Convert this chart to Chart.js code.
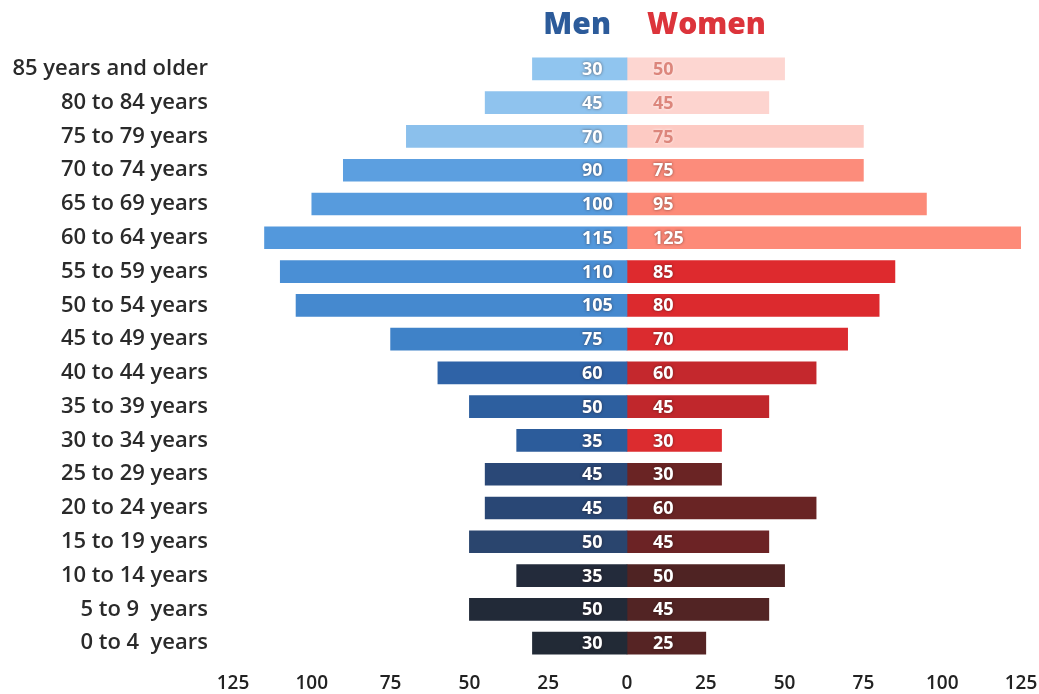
<!DOCTYPE html>
<html>
<head>
<meta charset="utf-8">
<script src="https://cdn.jsdelivr.net/npm/chart.js@4.4.1/dist/chart.umd.min.js"></script>
<style>
  html, body { margin: 0; padding: 0; background: #fff; }
  #wrap { width: 1039px; height: 694px; }
</style>
</head>
<body>
<div id="wrap"><canvas id="pyramid"></canvas></div>
<script>
const ageGroups = ['85 years and older', '80 to 84 years', '75 to 79 years', '70 to 74 years',
  '65 to 69 years', '60 to 64 years', '55 to 59 years', '50 to 54 years', '45 to 49 years',
  '40 to 44 years', '35 to 39 years', '30 to 34 years', '25 to 29 years', '20 to 24 years',
  '15 to 19 years', '10 to 14 years', '5 to 9  years', '0 to 4  years'];
const men   = [30, 45, 70, 90, 100, 115, 110, 105, 75, 60, 50, 35, 45, 45, 50, 35, 50, 30];
const women = [50, 45, 75, 75, 95, 125, 85, 80, 70, 60, 45, 30, 30, 60, 45, 50, 45, 25];
const xTicks = [-125, -100, -75, -50, -25, 0, 25, 50, 75, 100, 125];

const menColors = ['#90c5ef', '#8fc3ee', '#8bc0ec', '#5c9fe0', '#579bdd', '#5398dc', '#4a8fd5',
  '#4589cf', '#3f82c8', '#2f63a7', '#2d5f9f', '#2c5c9b', '#2a4877', '#294775', '#2a456e',
  '#232b3b', '#222a38', '#222a36'];
const womenColors = ['#fdd6d1', '#fdd4cf', '#fdcac3', '#fc8c7b', '#fc8a78', '#fd8a78', '#de2a2e',
  '#dc2a2e', '#db2b2f', '#c4282d', '#c0272c', '#dc2c2f', '#6a2424', '#692424', '#6c2325',
  '#4f2323', '#522424', '#562424'];

const FONT = '"Open Sans", "DejaVu Sans", sans-serif';

// value labels inside the bars, near the middle axis
const barLabels = {
  id: 'barLabels',
  afterDatasetsDraw(chart) {
    const ctx = chart.ctx;
    const zero = chart.scales.x.getPixelForValue(0);
    ctx.save();
    ctx.font = '700 18px ' + FONT;
    ctx.textBaseline = 'middle';
    ctx.textAlign = 'left';
    ctx.shadowColor = 'rgba(40,20,20,0.6)';
    ctx.shadowBlur = 3;
    ctx.fillStyle = '#fff';
    chart.getDatasetMeta(0).data.forEach((bar, i) => {
      ctx.fillText(men[i], zero - 45, bar.y + 1);
    });
    chart.getDatasetMeta(1).data.forEach((bar, i) => {
      // the palest pink rows get a salmon label
      ctx.fillStyle = i < 3 ? '#dc867c' : '#fff';
      ctx.shadowColor = i < 3 ? 'rgba(255,255,255,0.8)' : 'rgba(40,20,20,0.6)';
      ctx.fillText(women[i], zero + 26, bar.y + 1);
    });
    ctx.restore();
  }
};

// "Men" / "Women" headings over the centre line
const headings = {
  id: 'headings',
  afterDraw(chart) {
    const ctx = chart.ctx;
    const zero = chart.scales.x.getPixelForValue(0);
    ctx.save();
    ctx.font = '800 30px ' + FONT;
    ctx.textBaseline = 'middle';
    ctx.textAlign = 'right';
    ctx.fillStyle = '#2c5b9a';
    ctx.fillText('Men', zero - 16, 25);
    ctx.textAlign = 'left';
    ctx.fillStyle = '#dc343b';
    ctx.fillText('Women', zero + 20, 25);
    ctx.restore();
  }
};

new Chart(document.getElementById('pyramid'), {
  type: 'bar',
  data: {
    labels: ageGroups,
    datasets: [
      { label: 'Men', data: men.map(v => -v), backgroundColor: menColors, barThickness: 22 },
      { label: 'Women', data: women, backgroundColor: womenColors, barThickness: 22 }
    ]
  },
  options: {
    indexAxis: 'y',
    responsive: true,
    maintainAspectRatio: false,
    animation: false,
    layout: { padding: { top: 52, right: 18, left: 0, bottom: 0 } },
    plugins: {
      legend: { display: false },
      tooltip: { enabled: false }
    },
    scales: {
      x: {
        stacked: true,
        min: -125,
        max: 125,
        afterBuildTicks: s => { s.ticks = xTicks.map(v => ({ value: v })); },
        afterFit: s => { s.height = 34; s.paddingLeft = 0; s.paddingRight = 0; },
        grid: { display: false, drawTicks: false },
        border: { display: false },
        ticks: {
          padding: 12,
          color: '#222',
          font: { family: FONT, size: 19, weight: '600' },
          callback: v => Math.abs(v)
        }
      },
      y: {
        stacked: true,
        afterFit: s => { s.width = 233; s.paddingTop = 0; s.paddingBottom = 0; },
        grid: { display: false, drawTicks: false },
        border: { display: false },
        ticks: {
          padding: 25,
          color: '#2a2a2a',
          font: { family: FONT, size: 22, weight: '600' }
        }
      }
    }
  },
  plugins: [barLabels, headings]
});
</script>
</body>
</html>
